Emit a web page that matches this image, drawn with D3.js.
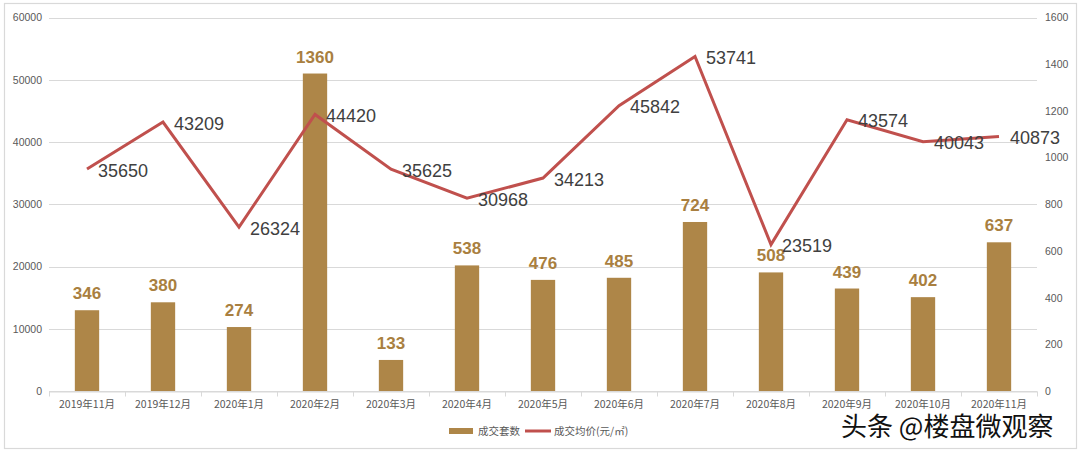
<!DOCTYPE html>
<html>
<head>
<meta charset="utf-8">
<script src="https://cdn.jsdelivr.net/npm/d3@7"></script>
<style>
html,body{margin:0;padding:0;background:#fff;}
svg{display:block;}
</style>
</head>
<body>
<svg id="chart" width="1080" height="453"></svg>
<script>
const categories = ["2019年11月","2019年12月","2020年1月","2020年2月","2020年3月","2020年4月","2020年5月","2020年6月","2020年7月","2020年8月","2020年9月","2020年10月","2020年11月"];
const units = [346,380,274,1360,133,538,476,485,724,508,439,402,637];
const prices = [35650,43209,26324,44420,35625,30968,34213,45842,53741,23519,43574,40043,40873];
const leftTicks = [0,10000,20000,30000,40000,50000,60000];
const rightTicks = [0,200,400,600,800,1000,1200,1400,1600];
const legendLabels = ["成交套数","成交均价(元/㎡)"];
const watermark = "头条 @楼盘微观察";

const svg = d3.select("#chart");
const W = 1080, H = 453;
const m = {left:49, right:1037, top:17.5, bottom:391};
const numFont = "'Liberation Sans', Arial, sans-serif";
const cjkFont = "'Noto Sans CJK SC', 'Liberation Sans', sans-serif";
const barColor = "#AE8648";
const labelColor = "#A97F40";
const lineColor = "#C0504D";
const gridColor = "#D9D9D9";
const axisText = "#595959";

svg.append("rect").attr("x",4.5).attr("y",3.5).attr("width",1072).attr("height",445)
  .attr("fill","#fff").attr("stroke",gridColor).attr("stroke-width",1.2);

const x = d3.scaleBand().domain(categories).range([m.left,m.right]).paddingInner(0.68).paddingOuter(0.34);
const step = x.step();
const yL = d3.scaleLinear().domain([0,60000]).range([m.bottom,m.top]);
const yR = d3.scaleLinear().domain([0,1600]).range([m.bottom,m.top]);

// gridlines
svg.append("g").selectAll("line").data(leftTicks).join("line")
  .attr("x1",m.left).attr("x2",m.right)
  .attr("y1",d=>Math.round(yL(d))+0.5).attr("y2",d=>Math.round(yL(d))+0.5)
  .attr("stroke",gridColor).attr("stroke-width",1);

// left axis
const gl = svg.append("g").attr("transform",`translate(${m.left},0)`)
  .call(d3.axisLeft(yL).tickValues(leftTicks).tickSize(0).tickPadding(7).tickFormat(d3.format("d")));
gl.select(".domain").remove();
gl.selectAll("text").attr("fill",axisText).style("font-family",numFont).style("font-size","10.5px");

// right axis
const gr = svg.append("g").attr("transform",`translate(${m.right},0)`)
  .call(d3.axisRight(yR).tickValues(rightTicks).tickSize(0).tickPadding(8).tickFormat(d3.format("d")));
gr.select(".domain").remove();
gr.selectAll("text").attr("fill",axisText).style("font-family",numFont).style("font-size","10.5px");

// x axis
const gx = svg.append("g").attr("transform",`translate(0,${Math.round(m.bottom)+0.5})`)
  .call(d3.axisBottom(x).tickSize(0).tickPadding(9));
gx.select(".domain").attr("stroke",gridColor);
gx.selectAll("text").attr("fill",axisText).style("font-family",cjkFont).style("font-size","10.5px");
// boundary ticks
const bounds = d3.range(categories.length+1).map(i=>m.left+i*step);
gx.append("g").selectAll("line").data(bounds).join("line")
  .attr("x1",d=>Math.round(d)+0.5).attr("x2",d=>Math.round(d)+0.5).attr("y1",0).attr("y2",5)
  .attr("stroke",gridColor);

// bars
svg.append("g").selectAll("rect").data(units).join("rect")
  .attr("x",(d,i)=>x(categories[i])).attr("width",x.bandwidth())
  .attr("y",d=>yR(d)).attr("height",d=>yR(0)-yR(d))
  .attr("fill",barColor);

// bar labels
svg.append("g").selectAll("text").data(units).join("text")
  .attr("x",(d,i)=>x(categories[i])+x.bandwidth()/2)
  .attr("y",d=>yR(d)-11)
  .attr("text-anchor","middle")
  .attr("fill",labelColor)
  .style("font-family",numFont).style("font-weight","bold").style("font-size","17px")
  .text(d=>d);

// line
const cx = (i)=>x(categories[i])+x.bandwidth()/2;
const line = d3.line().x((d,i)=>cx(i)).y(d=>yL(d));
svg.append("path").datum(prices).attr("d",line)
  .attr("fill","none").attr("stroke",lineColor).attr("stroke-width",3).attr("stroke-linejoin","miter");

// line labels
svg.append("g").selectAll("text").data(prices).join("text")
  .attr("x",(d,i)=>cx(i)+11)
  .attr("y",d=>yL(d)+1)
  .attr("dy","0.36em")
  .attr("fill","#404040")
  .style("font-family",numFont).style("font-size","18px")
  .text(d=>d);

// legend
const lg = svg.append("g");
lg.append("rect").attr("x",449).attr("y",428).attr("width",24).attr("height",6).attr("fill",barColor);
lg.append("text").attr("x",478).attr("y",431).attr("dy","0.35em").attr("fill",axisText)
  .style("font-family",cjkFont).style("font-size","10.5px").text(legendLabels[0]);
lg.append("line").attr("x1",525).attr("x2",551).attr("y1",431).attr("y2",431)
  .attr("stroke",lineColor).attr("stroke-width",3);
lg.append("text").attr("x",554).attr("y",431).attr("dy","0.35em").attr("fill",axisText)
  .style("font-family",cjkFont).style("font-size","10.5px").text(legendLabels[1]);

// watermark
svg.append("text").attr("x",841).attr("y",436)
  .attr("fill","#111").attr("stroke","#fff").attr("stroke-width",3).attr("paint-order","stroke")
  .style("font-family",cjkFont).style("font-size","26px")
  .text(watermark);
</script>
</body>
</html>
